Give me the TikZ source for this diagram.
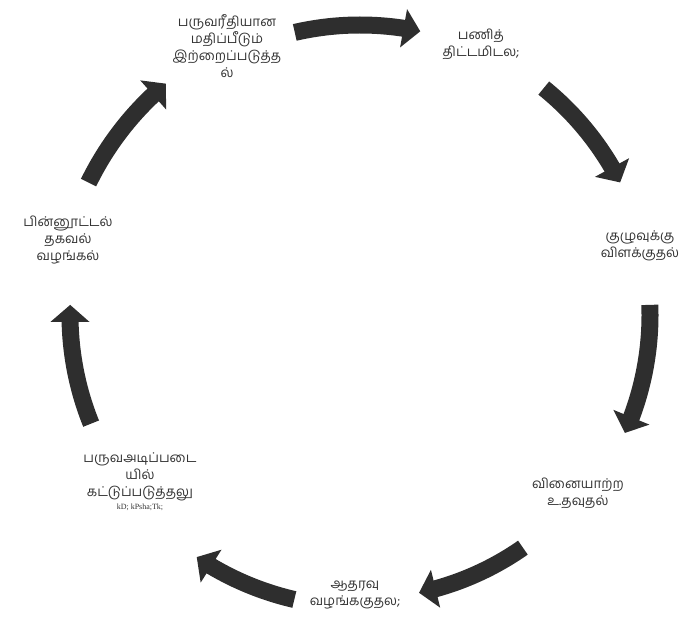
\documentclass[tikz,border=0pt]{standalone}
\usepackage{fontspec}
\setmainfont{Liberation Serif}
\newfontfamily\tamilfont[Script=Tamil]{Hind Madurai}
\usetikzlibrary{arrows.meta,bending}

\begin{document}
\begin{tikzpicture}[
  x=1pt, y=1pt,
  font=\tamilfont\fontsize{13.5}{17}\selectfont,
  stage/.style={
    align=center,
    text=black!80,
    inner sep=1pt
  },
  cyclearrow/.style={
    line width=17pt,
    draw=black!82,
    -{Triangle[length=17pt,width=38pt]}
  }
]
\useasboundingbox (0,0) rectangle (680,621);
\coordinate (hub) at (360,306);

\node[stage] (review) at (227,575)
  {பருவரீதியான\\மதிப்பீடும்\\இற்றைப்படுத்த\\ல்};
\node[stage] (planning) at (481,577)
  {பணித்\\திட்டமிடல;};
\node[stage] (briefing) at (640,375)
  {குழுவுக்கு\\விளக்குதல்};
\node[stage] (helping) at (578,128)
  {வினையாற்ற\\உ.தவுதல்};
\node[stage] (support) at (355,26)
  {ஆதரவு\\வழங்ககுதல;};
\node[stage] (control) at (140,139)
  {பருவஅடிப்படை\\யில்\\கட்டுப்படுத்தலு\\[-4pt]{\rmfamily\fontsize{8}{9}\selectfont kD; kPsha;Tk;}};
\node[stage] (feedback) at (68,381)
  {பின்னூட்டல்\\தகவல்\\வழங்கல்};

% arrows round the cycle
\coordinate (reviewOut) at ([shift={(hub)}]103:290);
\coordinate (planningOut) at ([shift={(hub)}]51:292);
\coordinate (briefingOut) at ([shift={(hub)}]2:290);
\coordinate (helpingOut) at ([shift={(hub)}]-55:284);
\coordinate (supportOut) at ([shift={(hub)}]-103:292);
\coordinate (controlOut) at ([shift={(hub)}]202:290);
\coordinate (feedbackOut) at ([shift={(hub)}]154:302);

\draw[cyclearrow] (reviewOut) arc[start angle=103, end angle=78, radius=290];
\draw[cyclearrow] (planningOut) arc[start angle=51, end angle=27, radius=292];
\draw[cyclearrow] (briefingOut) arc[start angle=2, end angle=-24, radius=290];
\draw[cyclearrow] (helpingOut) arc[start angle=-55, end angle=-78, radius=284];
\draw[cyclearrow] (supportOut) arc[start angle=-103, end angle=-124, radius=292];
\draw[cyclearrow] (controlOut) arc[start angle=202, end angle=178, radius=290];
\draw[cyclearrow] (feedbackOut) arc[start angle=154, end angle=130, radius=302];

\end{tikzpicture}
\end{document}
